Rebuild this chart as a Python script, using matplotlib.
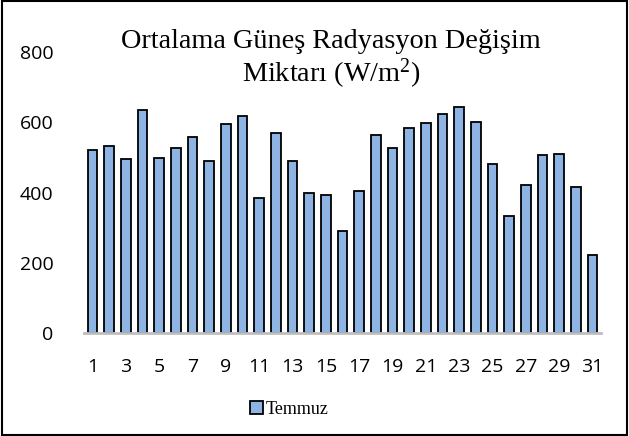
import matplotlib
matplotlib.use("Agg")
import matplotlib.pyplot as plt
from matplotlib.patches import Rectangle

plt.rcParams["mathtext.fontset"] = "custom"
plt.rcParams["mathtext.rm"] = "Liberation Serif"
plt.rcParams["mathtext.it"] = "Liberation Serif"
plt.rcParams["mathtext.bf"] = "Liberation Serif:bold"

days = list(range(1, 32))
temmuz = [521, 531, 495, 635, 497, 526, 558, 491, 596, 618,
          383, 569, 491, 400, 393, 290, 405, 564, 527, 585,
          598, 624, 642, 601, 481, 333, 421, 506, 510, 415, 223]
yticks = [0, 200, 400, 600, 800]
xtick_labels = [str(d) if d % 2 == 1 else "" for d in days]
title = "Ortalama Güneş Radyasyon Değişim\nMiktarı (W/m$^{\\mathrm{2}}$)"
series_name = "Temmuz"

fig = plt.figure(figsize=(6.29, 4.36), dpi=100)
ax = fig.add_axes([84/629, 1 - 333/436, (601-84)/629, (333-52)/436])

ax.bar(days, temmuz, width=0.58, color="#8DB4E2", edgecolor="black",
       linewidth=1.3, label=series_name, zorder=2)
ax.set_xlim(0.5, 31.5)
ax.set_ylim(0, 800)
ax.set_yticks(yticks)
ax.set_xticks(days)
ax.set_xticklabels(xtick_labels, fontfamily="Open Sans", fontsize=14)
for lab in ax.get_yticklabels():
    lab.set_fontfamily("Open Sans")
    lab.set_fontsize(14)
ax.tick_params(axis="both", length=0)
ax.tick_params(axis="x", pad=18)
ax.tick_params(axis="y", pad=22)
for s in ["top", "right", "left"]:
    ax.spines[s].set_visible(False)
ax.spines["bottom"].set_color("#BFBFBF")
ax.spines["bottom"].set_linewidth(2)
ax.spines["bottom"].set_zorder(3)

fig.text(331/629, 1 - 60/436, title, ha="center", va="center",
         fontfamily="Liberation Serif", fontsize=20.3, linespacing=1.15)

leg = fig.legend(loc="center", bbox_to_anchor=(289/629, 1 - 409/436),
                 frameon=False, prop={"family": "Liberation Serif", "size": 13},
                 handlelength=0.75, handleheight=0.75, handletextpad=0.1)

fig.patches.append(Rectangle((0.003, 0.003), 0.994, 0.994, transform=fig.transFigure,
                             fill=False, edgecolor="black", linewidth=1.5))
fig.savefig("out.png", dpi=100)
